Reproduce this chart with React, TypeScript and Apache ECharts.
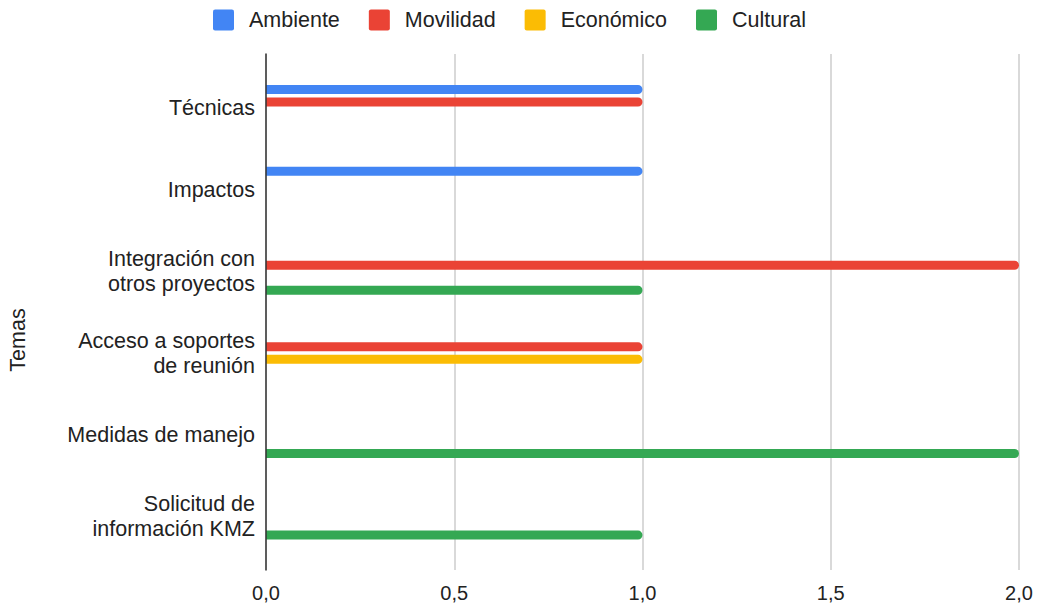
import React, { useEffect, useRef } from "react";
import * as echarts from "echarts";

const categories = [
  "Técnicas",
  "Impactos",
  "Integración con\notros proyectos",
  "Acceso a soportes\nde reunión",
  "Medidas de manejo",
  "Solicitud de\ninformación KMZ",
];
const seriesNames = ["Ambiente", "Movilidad", "Económico", "Cultural"];
const ambiente = [1, 1, 0, 0, 0, 0];
const movilidad = [1, 0, 2, 1, 0, 0];
const economico = [0, 0, 0, 1, 0, 0];
const cultural = [0, 0, 1, 0, 2, 1];
const colors = ["#4285F4", "#EA4335", "#FBBC04", "#34A853"];
const axisTitle = "Temas";

const FONT = "'Liberation Sans', Arial, sans-serif";
const ICON =
  "path://M2,0 H18 Q20,0 20,2 V18 Q20,20 18,20 H2 Q0,20 0,18 V2 Q0,0 2,0 Z";

export default function App() {
  const ref = useRef<HTMLDivElement>(null);
  useEffect(() => {
    document.body.style.margin = "0";
    const chart = echarts.init(ref.current!, undefined, { renderer: "svg" });
    const values = [ambiente, movilidad, economico, cultural];
    chart.setOption({
      animation: false,
      backgroundColor: "#ffffff",
      color: colors,
      textStyle: { fontFamily: FONT },
      legend: {
        left: 213,
        top: 9,
        padding: 0,
        itemWidth: 21,
        itemHeight: 21,
        itemGap: 29,
        icon: ICON,
        textStyle: { fontSize: 21.5, color: "#222", fontFamily: FONT, padding: [0, 0, 0, 10] },
        data: seriesNames,
      },
      grid: [
        { left: 266, right: 18, top: 54, height: 516 },
        { left: 266, right: 18, top: 67.5, height: 489.6 },
      ],
      xAxis: [
        {
          gridIndex: 0,
          type: "value",
          min: 0,
          max: 2,
          interval: 0.5,
          axisLine: { show: false },
          axisTick: { show: false },
          splitLine: { show: true, lineStyle: { color: "#cccccc", width: 1.5 } },
          axisLabel: {
            margin: 13,
            fontSize: 20,
            color: "#222",
            fontFamily: FONT,
            formatter: (v: number) => v.toFixed(1).replace(".", ","),
          },
        },
        {
          gridIndex: 1,
          type: "value",
          min: 0,
          max: 2,
          show: false,
        },
      ],
      yAxis: [
        {
          gridIndex: 0,
          type: "value",
          min: 0,
          max: 1,
          axisLabel: { show: false },
          axisTick: { show: false },
          splitLine: { show: false },
          axisLine: { show: true, lineStyle: { color: "#333333", width: 1.5 } },
          z: 10,
        },
        {
          gridIndex: 1,
          type: "category",
          inverse: true,
          data: categories,
          axisLine: { show: false },
          axisTick: { show: false },
          splitLine: { show: false },
          axisLabel: {
            margin: 11,
            fontSize: 21.5,
            lineHeight: 25,
            color: "#222",
            fontFamily: FONT,
            align: "right",
          },
        },
      ],
      graphic: [
        {
          type: "text",
          x: 18,
          y: 340,
          rotation: Math.PI / 2,
          style: {
            text: axisTitle,
            fontSize: 21.5,
            fontFamily: FONT,
            fill: "#222",
            textAlign: "center",
            textVerticalAlign: "middle",
          },
        },
      ],
      series: seriesNames.map((name, i) => ({
        name,
        type: "bar",
        xAxisIndex: 1,
        yAxisIndex: 1,
        barWidth: 9,
        barGap: "39%",
        data: values[i],
        itemStyle: { color: colors[i], borderRadius: [0, 4.5, 4.5, 0] },
      })),
    });
    return () => chart.dispose();
  }, []);
  return (
    <div
      ref={ref}
      style={{ position: "absolute", left: 0, top: 0, width: 1037, height: 608 }}
    />
  );
}
